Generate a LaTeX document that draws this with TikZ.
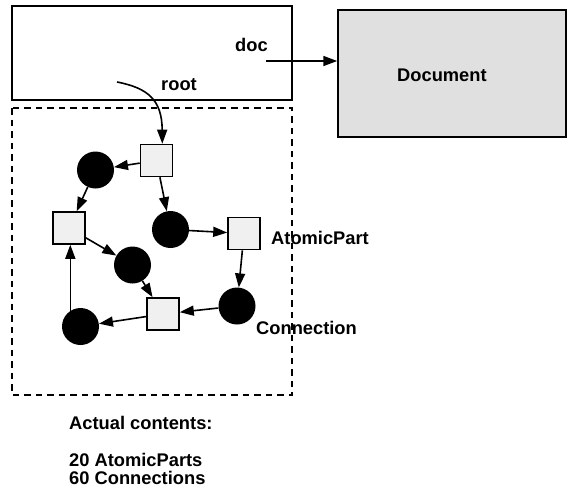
\documentclass[tikz,border=0pt]{standalone}
\usepackage{fontspec}
\setmainfont{Liberation Sans}
\usetikzlibrary{arrows.meta}
\definecolor{docgray}{HTML}{E0E0E0}
\definecolor{partgray}{HTML}{F0F0F0}
\begin{document}
\begin{tikzpicture}[x=1pt,y=-1pt,
  lbl/.style={font=\fontsize{18.3}{18}\selectfont\bfseries, inner sep=0pt, anchor=base west},
  part/.style={draw, line width=1.6pt, fill=partgray, minimum size=32pt, inner sep=0pt},
  conn/.style={circle, fill=black, minimum size=37pt, inner sep=0pt},
  arr/.style={-{Triangle[length=14pt,width=10pt]}, line width=1.6pt},
  frame/.style={line width=1.5pt}]
\useasboundingbox (0,0) rectangle (568,488);

% top box and dashed region
\draw[frame] (12,6) rectangle (292,100);
\draw[frame, dash pattern=on 6.5pt off 5pt] (12,108) rectangle (292,395);

% Document box
\node[draw, frame, fill=docgray, minimum width=228pt, minimum height=127pt, inner sep=0pt] (docbox) at (452,73.5) {};
\node[lbl] (doctext) at (397,81) {Document};

% labels
\node[lbl] (doclbl) at (235,51) {doc};
\node[lbl] (rootlbl) at (161,90.5) {root};
\node[lbl] (aplbl) at (271,244) {AtomicPart};
\node[lbl] (connlbl) at (256,334) {Connection};
\node[lbl] (actual) at (69,429) {Actual contents:};
\node[lbl, align=left, anchor=north west] (counts) at (69,453) {20 AtomicParts\\60 Connections};

% parts and connections
\node[part] (S1) at (156.5,160.5) {};
\node[part] (S2) at (69,228) {};
\node[part] (S3) at (244,233.5) {};
\node[part] (S4) at (163,314) {};
\node[conn] (C1) at (95.5,170) {};
\node[conn] (C2) at (170.5,229.5) {};
\node[conn] (C3) at (132.5,265) {};
\node[conn] (C4) at (237,306) {};
\node[conn] (C5) at (80.5,326.5) {};

% free ends
\coordinate (docstart) at (266,61);
\coordinate (rootstart) at (117,82);

% connectors
\draw[arr] (docstart) -- (docstart -| docbox.west);
\draw[arr] (rootstart) .. controls (148,88) and (162,100) .. (S1.71);
\draw[arr] (S1) -- (C1);
\draw[arr] (S1) -- (C2);
\draw[arr] (C1) -- (S2);
\draw[arr] (S2) -- (C3);
\draw[arr] (C3) -- (S4);
\draw[arr] (C2) -- (S3);
\draw[arr] (S3) -- (C4);
\draw[arr] (C4) -- (S4);
\draw[arr] (S4) -- (C5);
\draw[arr] (C5.123) -- (C5.123 |- S2.south);
\end{tikzpicture}
\end{document}
